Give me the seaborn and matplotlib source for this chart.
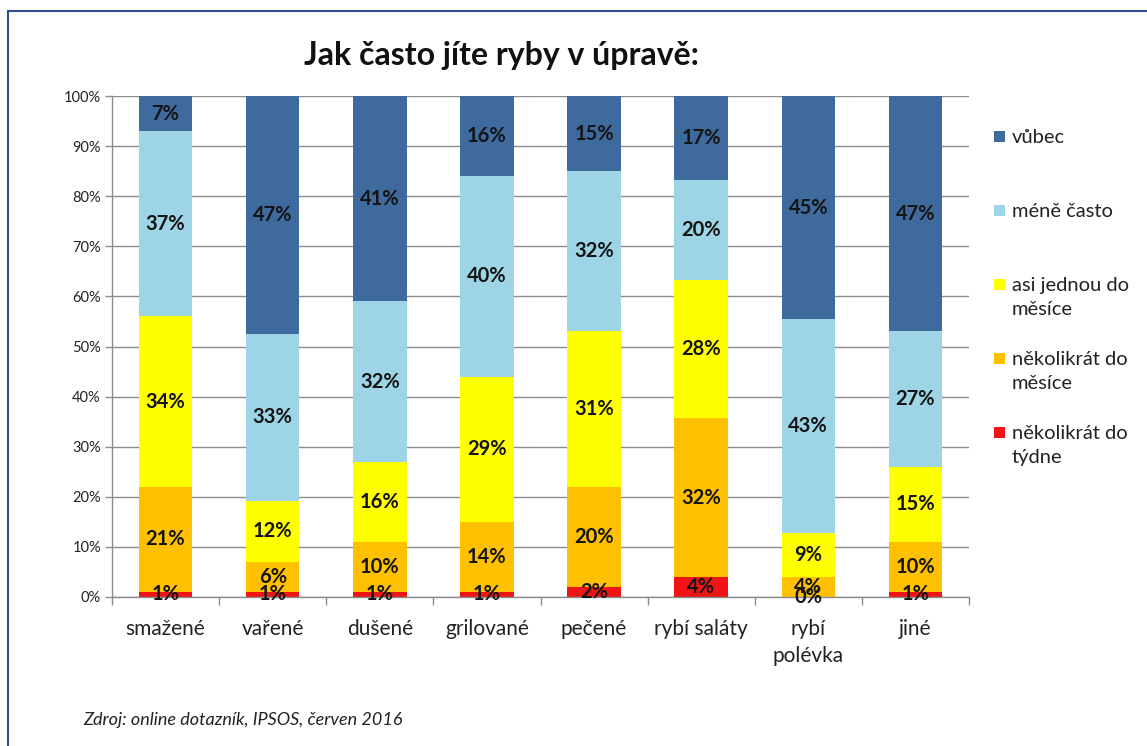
import numpy as np
import matplotlib
matplotlib.use("Agg")
import matplotlib.pyplot as plt
from matplotlib.patches import Rectangle
from matplotlib.lines import Line2D
import seaborn as sns

# Survey answers per dish type (percent of respondents)
categories = ["smažené", "vařené", "dušené", "grilované", "pečené",
              "rybí saláty", "rybí\npolévka", "jiné"]
nekolikrat_tyden = [1, 1, 1, 1, 2, 4, 0, 1]
nekolikrat_mesic = [21, 6, 10, 14, 20, 32, 4, 10]
jednou_mesic = [34, 12, 16, 29, 31, 28, 9, 15]
mene_casto = [37, 33, 32, 40, 32, 20, 43, 27]
vubec = [7, 47, 41, 16, 15, 17, 45, 47]

# Stack order from the bottom of each bar upwards
series_names = ["několikrát do\ntýdne", "několikrát do\nměsíce",
                "asi jednou do\nměsíce", "méně často", "vůbec"]
series_values = [nekolikrat_tyden, nekolikrat_mesic, jednou_mesic,
                 mene_casto, vubec]
series_colors = ["#F01414", "#FFC000", "#FFFF00", "#9DD5E6", "#3F6A9E"]

sns.set_style("white")
plt.rcParams["font.family"] = ["Lato", "DejaVu Sans"]

W, H = 1147, 746
fig = plt.figure(figsize=(W / 100, H / 100), dpi=100)
ax = fig.add_axes([112 / W, 1 - 597 / H, (969 - 112) / W, (597 - 96) / H])

vals = np.array(series_values, dtype=float)
shares = vals / vals.sum(axis=0) * 100.0          # 100 % stacked
tops = np.cumsum(shares, axis=0)
bottoms = tops - shares

# Draw cumulative totals from the tallest layer down so each layer overlaps the next
for i in reversed(range(len(series_names))):
    sns.barplot(x=categories, y=tops[i], color=series_colors[i], saturation=1,
                width=0.5, linewidth=0, edgecolor="none", ax=ax, zorder=2)

# Value labels in the middle of each segment
for i in range(len(series_names)):
    for j in range(len(categories)):
        ax.text(j, bottoms[i, j] + shares[i, j] / 2, f"{series_values[i][j]}%",
                ha="center", va="center", fontsize=14.5, fontweight="bold",
                color="#141414", zorder=4)

ax.set_ylim(0, 100)
ax.set_xlim(-0.5, len(categories) - 0.5)
ax.set_yticks(np.arange(0, 101, 10))
ax.set_yticklabels([f"{v}%" for v in range(0, 101, 10)], fontsize=10.5, color="#222222")
ax.yaxis.grid(True, color="#8C8C8C", linewidth=1)
ax.set_axisbelow(True)
ax.tick_params(axis="y", length=5, width=1, color="#8C8C8C", pad=3, left=True)
ax.set_xticks(np.arange(len(categories)))
ax.set_xticklabels(categories, fontsize=15, color="#222222", linespacing=1.45)
ax.tick_params(axis="x", which="major", length=0, pad=16)
ax.set_xticks(np.arange(-0.5, len(categories)), minor=True)
ax.tick_params(axis="x", which="minor", length=6, width=1, color="#8C8C8C", bottom=True)
ax.set_xlabel("")
ax.set_ylabel("")
for s in ["top", "right"]:
    ax.spines[s].set_visible(False)
for s in ["left", "bottom"]:
    ax.spines[s].set_color("#8C8C8C")
    ax.spines[s].set_linewidth(1)

# Legend, top entry first
y_first = 137
step = 74
for k, i in enumerate(reversed(range(len(series_names)))):
    y = y_first + k * step
    fig.add_artist(Rectangle((994 / W, 1 - (y + 5) / H), 11 / W, 11 / H,
                             transform=fig.transFigure, facecolor=series_colors[i],
                             edgecolor="none"))
    fig.text(1012 / W, 1 - (y - 8) / H, series_names[i], ha="left", va="top",
             fontsize=14.5, color="#222222", linespacing=1.5)

fig.text(501 / W, 1 - 55 / H, "Jak často jíte ryby v úpravě:", ha="center", va="center",
         fontsize=23, fontweight="bold", color="#111111")
fig.text(83 / W, 1 - 720 / H, "Zdroj: online dotazník, IPSOS, červen 2016",
         ha="left", va="center", fontsize=13, style="italic", color="#222222")

# Page frame
frame_color = "#2E4C91"
fig.add_artist(Line2D([8 / W, 1], [1 - 11 / H, 1 - 11 / H], transform=fig.transFigure,
                      color=frame_color, linewidth=1.5))
fig.add_artist(Line2D([8 / W, 8 / W], [0, 1 - 11 / H], transform=fig.transFigure,
                      color=frame_color, linewidth=1.5))

fig.savefig("out.png", dpi=100, facecolor="white")
